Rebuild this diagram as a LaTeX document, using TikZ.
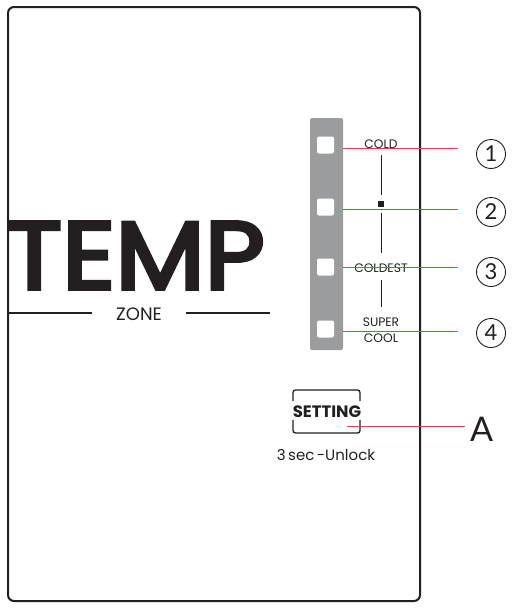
\documentclass[tikz,border=0pt]{standalone}
\usepackage{fontspec}
\setmainfont{Poppins}
\newfontfamily\latofont{Lato}
\newfontfamily\tempfont[FakeBold=4]{Poppins}
\definecolor{ink}{HTML}{231F20}
\definecolor{barg}{HTML}{9A9C9E}
\definecolor{redl}{HTML}{D9434B}
\begin{document}
\begin{tikzpicture}[x=1pt,y=-1pt,
  lbl/.style={inner sep=0pt, text=ink, font=\fontsize{12.3}{12.3}\selectfont},
  keysq/.style={fill=white, rounded corners=2pt, minimum size=17pt, inner sep=0pt},
  redline/.style={draw=redl, line width=0.9pt},
  numc/.style={circle, draw=ink, line width=0.9pt, minimum size=29pt, inner sep=0pt, text=ink, font=\latofont\fontsize{22}{22}\selectfont},
  tick/.style={draw=ink, line width=1pt}]
\useasboundingbox (0,0) rectangle (519,608);
% panel
\node (panel) [draw=ink, line width=2pt, rounded corners=6pt, minimum width=412pt, minimum height=594pt, inner sep=0pt] at (214,304) {};
% TEMP
\node (temp) [anchor=base west, inner sep=0pt, text depth=0pt, text=ink, font=\tempfont\fontsize{96}{96}\selectfont] at (6,289) {\scalebox{1.08}[1]{TEMP}};
\node (zone) [inner sep=0pt, text=ink, font=\fontsize{18}{18}\selectfont] at (139,314) {ZONE};
\coordinate (zl1) at (8,313); \coordinate (zl2) at (92,313);
\coordinate (zr1) at (186,313); \coordinate (zr2) at (270,313);
\draw[ink, line width=1.5pt] (zl1) -- (zl2) (zr1) -- (zr2);
% bar
\fill[barg, rounded corners=2pt] (310,118) rectangle (343,350);
\node (k1) [keysq] at (325.5,145) {};
\node (k2) [keysq] at (325.5,207) {};
\node (k3) [keysq] at (325.5,267) {};
\node (k4) [keysq] at (325.5,329) {};
% labels
\node (cold) [lbl, anchor=base] at (381,148) {COLD};
\node (dot) [fill=ink, minimum size=5.5pt, inner sep=0pt] at (381,204) {};
\node (coldest) [lbl, anchor=base] at (381,272) {COLDEST};
\node (super) [lbl, anchor=base] at (381,326) {SUPER};
\node (cool) [lbl, anchor=base] at (381,342) {COOL};
\coordinate (t1a) at (381,155); \coordinate (t1b) at (381,195);
\coordinate (t2a) at (381,213); \coordinate (t2b) at (381,253);
\coordinate (t3a) at (381,280); \coordinate (t3b) at (381,307);
\draw[tick] (t1a) -- (t1b) (t2a) -- (t2b) (t3a) -- (t3b);
% circled numbers
\node (n1) [numc] at (491,154) {1};
\node (n2) [numc] at (491,212) {2};
\node (n3) [numc] at (491,272) {3};
\node (n4) [numc] at (491,333) {4};
\coordinate (r1) at (343,148); \coordinate (e1) at (458,148);
\coordinate (r2) at (343,209); \coordinate (e2) at (458,209);
\coordinate (r3) at (343,267); \coordinate (e3) at (458,267);
\coordinate (r4) at (343,331); \coordinate (e4) at (458,331);
\draw[redline] (r1) -- (e1) (r2) -- (e2) (r3) -- (e3) (r4) -- (e4);
% setting
\node (setting) [inner sep=0pt, text=ink, font=\fontsize{16.5}{16.5}\selectfont\bfseries] at (327,412) {SETTING};
\draw[ink, line width=1.3pt, rounded corners=2.5pt] (293,401) -- (293,390) -- (360,390) -- (360,401);
\draw[ink, line width=1.3pt, rounded corners=2.5pt] (293,420) -- (293,433) -- (360,433) -- (360,420);
\node (unlock) [inner sep=0pt, text=ink, font=\fontsize{15}{15}\selectfont] at (326,455) {3\,sec\,-Unlock};
\node (A) [inner sep=0pt, text=ink, font=\latofont\fontsize{34}{34}\selectfont, anchor=base west] at (470,441) {A};
\coordinate (sa) at (347,426); \coordinate (sb) at (465,426);
\draw[redline] (sa) -- (sb);
\end{tikzpicture}
\end{document}
